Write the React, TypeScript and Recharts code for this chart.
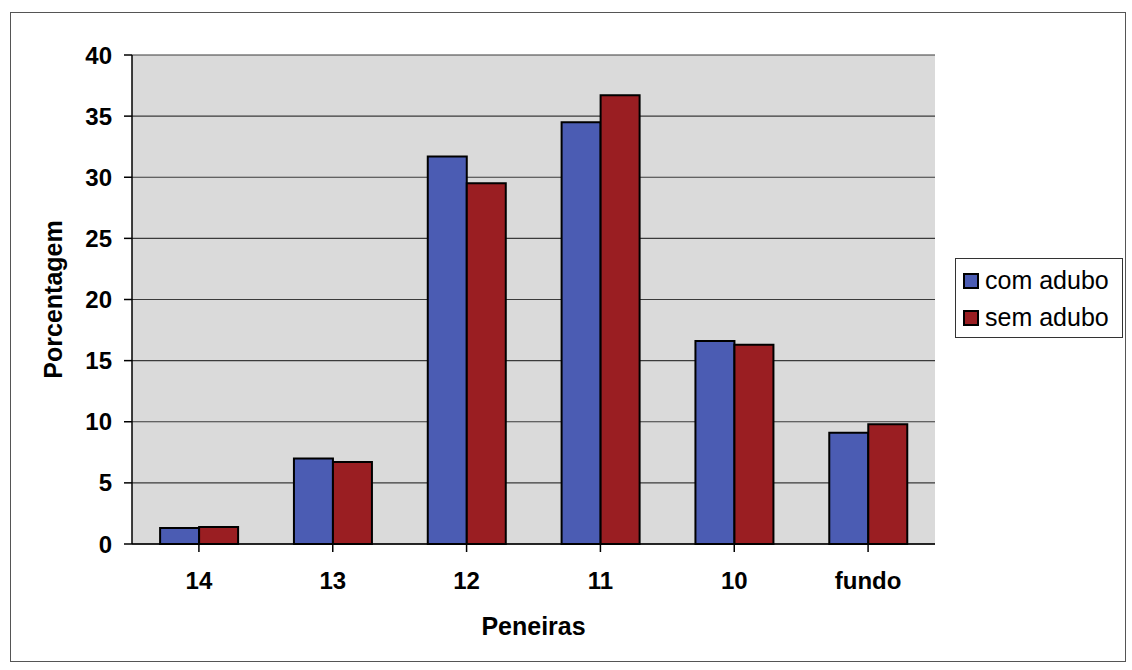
import React from "react";
import {
  BarChart,
  Bar,
  XAxis,
  YAxis,
  CartesianGrid,
  Legend,
} from "recharts";

const peneiras = ["14", "13", "12", "11", "10", "fundo"];
const comAdubo = [1.3, 7.0, 31.7, 34.5, 16.6, 9.1];
const semAdubo = [1.4, 6.7, 29.5, 36.7, 16.3, 9.8];
const yTicks = [0, 5, 10, 15, 20, 25, 30, 35, 40];

const data = peneiras.map((p, i) => ({
  peneira: p,
  com: comAdubo[i],
  sem: semAdubo[i],
}));

const FONT = "'Liberation Sans', Arial, sans-serif";
const BLUE = "#4b5cb3";
const RED = "#9a1e22";

function LegendBox() {
  const items = [
    { label: "com adubo", color: BLUE },
    { label: "sem adubo", color: RED },
  ];
  return (
    <div
      style={{
        boxSizing: "border-box",
        border: "1px solid #333",
        background: "#fff",
        padding: "3px 4px 3px 7px",
        width: 168,
        height: 80,
        fontFamily: FONT,
        fontSize: 25,
        color: "#000",
      }}
    >
      {items.map((it) => (
        <div
          key={it.label}
          style={{ display: "flex", alignItems: "center", height: 37, whiteSpace: "nowrap" }}
        >
          <span
            style={{
              display: "inline-block",
              width: 12,
              height: 12,
              background: it.color,
              border: "2px solid #000",
              marginRight: 6,
              flex: "none",
            }}
          />
          {it.label}
        </div>
      ))}
    </div>
  );
}

function YLabel({ viewBox }: any) {
  const cy = viewBox.y + viewBox.height / 2;
  return (
    <text
      x={62}
      y={cy}
      transform={`rotate(-90, 62, ${cy})`}
      textAnchor="middle"
      fontFamily={FONT}
      fontWeight="bold"
      fontSize={25}
      fill="#000"
    >
      Porcentagem
    </text>
  );
}

export default function App() {
  return (
    <div
      style={{
        position: "absolute",
        left: 0,
        top: 0,
        width: 1132,
        height: 670,
        background: "#fff",
      }}
    >
      <div
        style={{
          position: "absolute",
          left: 10,
          top: 12,
          width: 1114,
          height: 648,
          border: "1px solid #555",
        }}
      />
      <BarChart
        width={1132}
        height={670}
        data={data}
        margin={{ top: 55, right: 197, bottom: 30, left: 0 }}
        barCategoryGap="21%"
        barGap={0}
        style={{ position: "absolute", left: 0, top: 0 }}
      >
        <CartesianGrid
          vertical={false}
          stroke="#3a3a3a"
          strokeWidth={1.2}
          fill="#dadada"
        />
        <XAxis
          dataKey="peneira"
          height={96}
          tickSize={8}
          tickMargin={20}
          axisLine={{ stroke: "#000", strokeWidth: 1.5 }}
          tickLine={{ stroke: "#000", strokeWidth: 1.5 }}
          tick={{ fontFamily: FONT, fontSize: 24, fontWeight: "bold", fill: "#000" }}
          label={{
            value: "Peneiras",
            position: "insideBottom",
            offset: 5,
            fontFamily: FONT,
            fontSize: 25,
            fontWeight: "bold",
            fill: "#000",
          }}
        />
        <YAxis
          width={132}
          domain={[0, 40]}
          ticks={yTicks}
          tickSize={8}
          tickMargin={12}
          axisLine={{ stroke: "#000", strokeWidth: 1.5 }}
          tickLine={{ stroke: "#000", strokeWidth: 1.5 }}
          tick={{ fontFamily: FONT, fontSize: 24, fontWeight: "bold", fill: "#000" }}
          label={<YLabel />}
        />
        <Legend
          layout="horizontal"
          align="center"
          verticalAlign="middle"
          content={<LegendBox />}
          wrapperStyle={{ left: 955, top: 258, width: 168, height: 80 }}
        />
        <Bar
          dataKey="com"
          name="com adubo"
          fill={BLUE}
          stroke="#000"
          strokeWidth={2}
          isAnimationActive={false}
        />
        <Bar
          dataKey="sem"
          name="sem adubo"
          fill={RED}
          stroke="#000"
          strokeWidth={2}
          isAnimationActive={false}
        />
      </BarChart>
    </div>
  );
}
